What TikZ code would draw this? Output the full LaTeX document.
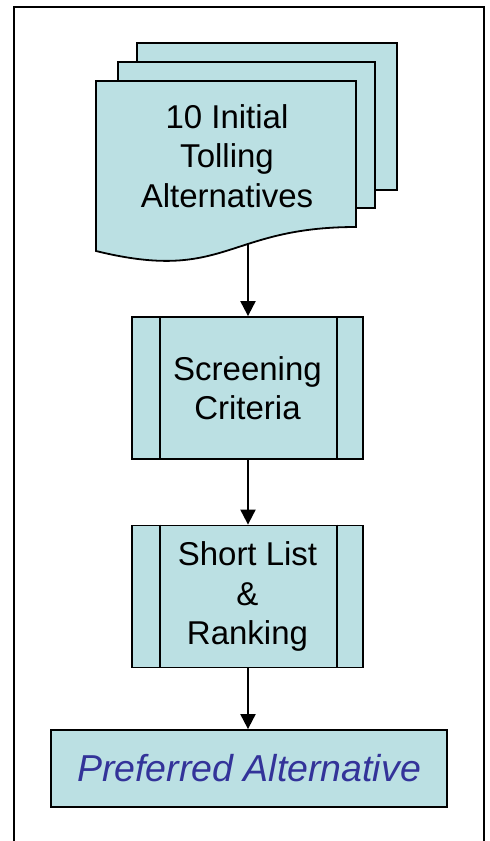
\documentclass[tikz,border=0pt]{standalone}
\usepackage{fontspec}
\setmainfont{Liberation Sans}
\usepackage{tikz}
\usetikzlibrary{arrows.meta,positioning,calc}

\definecolor{paleteal}{RGB}{187,224,227}
\definecolor{inkblue}{RGB}{51,51,153}

\begin{document}
\begin{tikzpicture}[
  x=1pt, y=-1pt,
  font=\fontsize{33}{39.5}\selectfont,
  sheet/.style  = {draw, fill=paleteal, line width=1.8pt, line join=miter},
  proc/.style   = {draw, fill=paleteal, line width=1.8pt, align=center,
                   minimum width=231pt, minimum height=142pt, inner sep=0pt},
  final/.style  = {draw, fill=paleteal, line width=1.8pt, align=center,
                   minimum width=396pt, minimum height=77pt, inner sep=0pt,
                   text=inkblue, font=\fontsize{37.5}{44}\selectfont\itshape},
  ar/.style     = {-{Triangle[length=15pt,width=15pt]}, line width=2pt},
]
\useasboundingbox (0,0) rectangle (490,841);

% ----------------------------- outer frame --------------------------------
\draw[line width=2pt] (14,860) -- (14,7) -- (484,7) -- (484,860);

% ----------------------------- stacked documents --------------------------
\draw[sheet] (137,43) rectangle (397,190);
\draw[sheet] (118,62) rectangle (375,208);
\draw[sheet] (96,81) -- (356,81) -- (356,227)
  .. controls (226,227) and (226,283) .. (96,251) -- cycle;
\node[align=center] (docs) at (227,156)
  {10 Initial\\Tolling\\Alternatives};
\coordinate (docfoot) at (248,243.8);

% ----------------------------- process boxes ------------------------------
\node[proc] (screen) at (247.5,388) {Screening\\Criteria};
\node[proc] (short) at (247.5,596.5) {Short List\\\&\\Ranking};
\foreach \b in {screen,short}{
  \draw[line width=1.8pt] ([xshift=29pt]\b.north west) -- ([xshift=29pt]\b.south west);
  \draw[line width=1.8pt] ([xshift=-27pt]\b.north east) -- ([xshift=-27pt]\b.south east);
}

% ----------------------------- result -------------------------------------
\node[final] (pref) at (249,768.5) {Preferred Alternative};

% ----------------------------- flow ---------------------------------------
\draw[ar] (docfoot) -- (docfoot |- screen.north);
\draw[ar] (screen.south -| docfoot) -- (short.north -| docfoot);
\draw[ar] (short.south -| docfoot) -- (pref.north -| docfoot);

\end{tikzpicture}
\end{document}
